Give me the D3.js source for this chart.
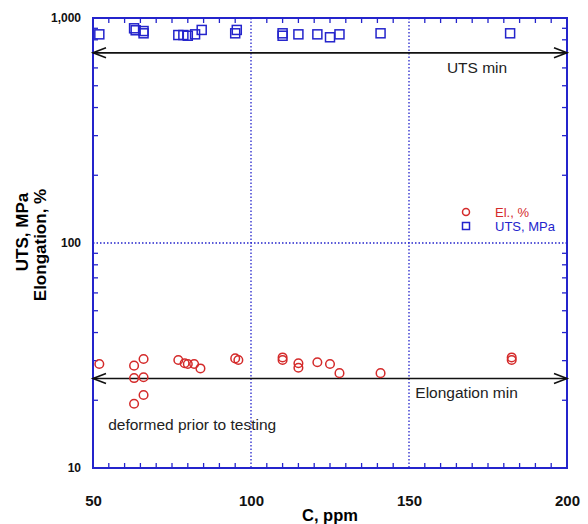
<!DOCTYPE html>
<html>
<head>
<meta charset="utf-8">
<script src="https://cdn.jsdelivr.net/npm/d3@7"></script>
<style>
  body { margin: 0; background: #fff; }
  svg text { font-family: "Liberation Sans", Arial, sans-serif; }
</style>
</head>
<body>
<div class="canvas"></div>
<script>
// data
const elPpm = [52, 63, 66, 63, 66, 66, 63, 77, 79, 80, 82, 84, 95, 96, 110, 110, 115, 115, 121, 125, 128, 141, 182.5, 182.5]
const elVal = [29.0, 28.5, 30.5, 25.1, 25.3, 21.1, 19.3, 30.2, 29.2, 29.0, 29.0, 27.7, 30.7, 30.2, 31.0, 30.2, 29.2, 27.9, 29.5, 29.0, 26.4, 26.4, 31.0, 30.2]
const utsPpm = [52, 63, 63.5, 66, 66, 77, 78.6, 80, 82.3, 84.4, 95, 95.5, 110, 110, 115, 121, 125, 128, 141, 182]
const utsVal = [846, 900, 882, 875, 855, 840, 840, 834, 846, 885, 855, 885, 855, 834, 846, 846, 821, 846, 855, 855]
const xTicks = [50, 100, 150, 200]
const yTicks = [10, 100, 1000]
const utsMin = 700
const elMin = 25

const margin = { top: 18, right: 21, bottom: 56, left: 93 }
const width = 588, height = 524
const graphWidth = width - margin.left - margin.right
const graphHeight = height - margin.top - margin.bottom

const blue = '#2424cc'
const red = '#d42a2a'

const svg = d3.select('.canvas')
    .append('svg')
    .attr('width', width)
    .attr('height', height)

const graph = svg.append('g')
    .attr('transform', `translate(${margin.left}, ${margin.top})`)

// scales
const x = d3.scaleLinear().domain([50, 200]).range([0, graphWidth])
const y = d3.scaleLog().domain([10, 1000]).range([graphHeight, 0])

// dotted grid
graph.append('g').selectAll('line')
    .data([100, 150]).enter()
    .append('line')
    .attr('x1', d => x(d)).attr('x2', d => x(d))
    .attr('y1', 0).attr('y2', graphHeight)
    .attr('stroke', blue).attr('stroke-width', 1.3)
    .attr('stroke-dasharray', '1.5,2')

graph.append('line')
    .attr('x1', 0).attr('x2', graphWidth)
    .attr('y1', y(100)).attr('y2', y(100))
    .attr('stroke', blue).attr('stroke-width', 1.3)
    .attr('stroke-dasharray', '1.5,2')

// inside ticks on all four sides
const minorX = d3.range(55, 200, 5).filter(d => d % 50 !== 0)
const minorY = [20, 30, 40, 50, 60, 70, 80, 90, 200, 300, 400, 500, 600, 700, 800, 900]

const ticks = graph.append('g').attr('stroke', blue).attr('stroke-width', 1.3)
minorX.forEach(d => {
    ticks.append('line').attr('x1', x(d)).attr('x2', x(d)).attr('y1', graphHeight).attr('y2', graphHeight - 5)
    ticks.append('line').attr('x1', x(d)).attr('x2', x(d)).attr('y1', 0).attr('y2', 5)
})
minorY.forEach(d => {
    ticks.append('line').attr('x1', 0).attr('x2', 5).attr('y1', y(d)).attr('y2', y(d))
    ticks.append('line').attr('x1', graphWidth).attr('x2', graphWidth - 5).attr('y1', y(d)).attr('y2', y(d))
})

// frame
graph.append('rect')
    .attr('width', graphWidth).attr('height', graphHeight)
    .attr('fill', 'none').attr('stroke', blue).attr('stroke-width', 2)

// axes (labels only)
const xAxis = d3.axisBottom(x).tickValues(xTicks).tickSize(0).tickPadding(27)
const yAxis = d3.axisLeft(y).tickValues(yTicks).tickSize(0).tickPadding(12)
    .tickFormat(d3.format(','))

const xAxisGroup = graph.append('g')
    .attr('transform', `translate(0, ${graphHeight})`)
    .call(xAxis)
const yAxisGroup = graph.append('g').call(yAxis)

xAxisGroup.select('.domain').remove()
yAxisGroup.select('.domain').remove()
xAxisGroup.selectAll('text').attr('font-size', 15).attr('font-weight', 'bold')
    .attr('font-family', '"Liberation Sans", Arial, sans-serif').attr('fill', '#111')
yAxisGroup.selectAll('text').attr('font-size', 12).attr('font-weight', 'bold')
    .attr('font-family', '"Liberation Sans", Arial, sans-serif').attr('fill', '#111')

// axis titles
svg.append('text')
    .attr('x', margin.left + x(125)).attr('y', 521)
    .attr('text-anchor', 'middle')
    .attr('font-size', 16.5).attr('font-weight', 'bold')
    .text('C, ppm')

svg.append('text')
    .attr('transform', 'translate(28, 232) rotate(-90)')
    .attr('text-anchor', 'middle')
    .attr('font-size', 17).attr('font-weight', 'bold')
    .text('UTS, MPa')
svg.append('text')
    .attr('transform', 'translate(46, 245) rotate(-90)')
    .attr('text-anchor', 'middle')
    .attr('font-size', 17).attr('font-weight', 'bold')
    .text('Elongation, %')

// double-headed arrows for minimum values
const arrow = (val) => {
    const yy = y(val)
    const g = graph.append('g').attr('stroke', '#111').attr('stroke-width', 1.6).attr('fill', 'none')
    g.append('line').attr('x1', x(50)).attr('x2', x(200)).attr('y1', yy).attr('y2', yy)
    g.append('path').attr('d', `M${x(50) + 13},${yy - 5} L${x(50)},${yy} L${x(50) + 13},${yy + 5}`)
    g.append('path').attr('d', `M${x(200) - 13},${yy - 5} L${x(200)},${yy} L${x(200) - 13},${yy + 5}`)
}
arrow(utsMin)
arrow(elMin)

const note = (txt, px, py) => graph.append('text')
    .attr('x', px).attr('y', py)
    .attr('font-size', 15.5).attr('fill', '#222')
    .text(txt)
note('UTS min', x(162), y(utsMin) + 20)
note('Elongation min', x(152), y(elMin) + 20)
note('deformed prior to testing', x(54.8), y(elMin) + 52)

// UTS squares
const utsData = utsPpm.map((d, i) => ({ ppm: d, v: utsVal[i] }))
graph.append('g').selectAll('rect')
    .data(utsData).enter()
    .append('rect')
    .attr('x', d => x(d.ppm) - 4.5)
    .attr('y', d => y(d.v) - 4.5)
    .attr('width', 9).attr('height', 9)
    .attr('fill', 'none').attr('stroke', blue).attr('stroke-width', 1.5)

// elongation circles
const elData = elPpm.map((d, i) => ({ ppm: d, v: elVal[i] }))
graph.append('g').selectAll('circle')
    .data(elData).enter()
    .append('circle')
    .attr('cx', d => x(d.ppm))
    .attr('cy', d => y(d.v))
    .attr('r', 4.3)
    .attr('fill', 'none').attr('stroke', red).attr('stroke-width', 1.5)

// legend
const legend = svg.append('g').attr('transform', 'translate(466, 212)')
legend.append('circle').attr('cx', 0).attr('cy', 0).attr('r', 3.5)
    .attr('fill', 'none').attr('stroke', red).attr('stroke-width', 1.5)
legend.append('rect').attr('x', -3.5).attr('y', 10.5).attr('width', 7).attr('height', 7)
    .attr('fill', 'none').attr('stroke', blue).attr('stroke-width', 1.5)
legend.append('text').attr('x', 29).attr('y', 5).attr('font-size', 13).attr('fill', red).text('El., %')
legend.append('text').attr('x', 29).attr('y', 19).attr('font-size', 13).attr('fill', blue).text('UTS, MPa')
</script>
</body>
</html>
